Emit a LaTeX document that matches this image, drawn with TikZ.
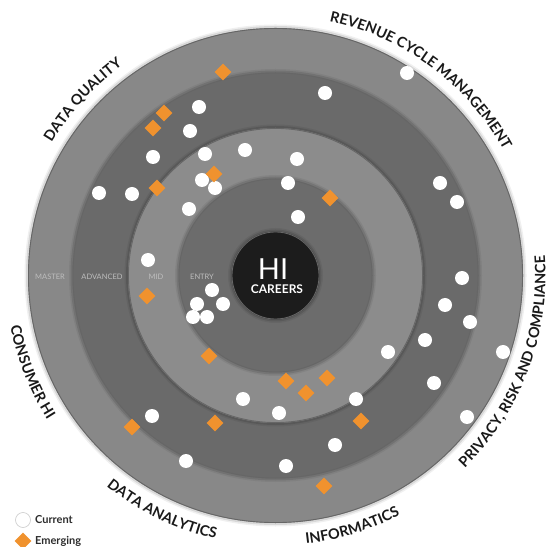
\documentclass[tikz,border=0pt]{standalone}
\usepackage{fontspec}
\setmainfont{Lato}
\usetikzlibrary{decorations.text,shapes.geometric}
\definecolor{ringA}{RGB}{136,136,136}
\definecolor{ringB}{RGB}{106,106,106}
\definecolor{ringC}{RGB}{140,140,140}
\definecolor{ringD}{RGB}{108,108,108}
\definecolor{core}{RGB}{28,28,28}
\definecolor{emerg}{RGB}{240,146,46}
\definecolor{lbl}{RGB}{25,25,25}
\definecolor{ringtxt}{RGB}{190,190,190}
\definecolor{legtxt}{RGB}{45,45,45}
\newcommand\lblfont{\fontsize{14.5}{15}\selectfont\bfseries\color{lbl}}
\begin{document}
\begin{tikzpicture}[x=1pt,y=1pt,
  cur/.style={circle, fill=white, inner sep=0pt, minimum size=14pt},
  emg/.style={diamond, fill=emerg, inner sep=0pt, minimum size=17pt},
  ringlab/.style={text=ringtxt, font=\fontsize{7.5}{8}\selectfont, inner sep=0pt},
  legtext/.style={text=legtxt, font=\fontsize{11}{12}\selectfont\bfseries, anchor=west, inner sep=0pt},
  toparc/.style={decorate, decoration={text along path, text align=center, text={#1}}},
]
\useasboundingbox (0,0) rectangle (548,546);
\coordinate (C) at (275.5,270.5);

% rings with soft shadows
\foreach \r/\c in {247.5/ringA, 203/ringB, 147.5/ringC, 97/ringD, 44/core} {
  \fill[black, opacity=0.06] (C) circle[radius=\r+3.5];
  \fill[black, opacity=0.10] (C) circle[radius=\r+2];
  \fill[\c] (C) circle[radius=\r];
  \draw[black!60, line width=0.9] (C) circle[radius=\r-0.45];
}

% curved category labels
\path[toparc={|\lblfont|DATA QUALITY}] ([shift={(177.7:260)}]C) arc[start angle=177.7, end angle=97.7, radius=260];
\path[toparc={|\lblfont|REVENUE CYCLE MANAGEMENT}] ([shift={(98.4:260)}]C) arc[start angle=98.4, end angle=8.4, radius=260];
\path[toparc={|\lblfont|PRIVACY, RISK AND COMPLIANCE}] ([shift={(-65.6:270)}]C) arc[start angle=-65.6, end angle=24.4, radius=270];
\path[toparc={|\lblfont|INFORMATICS}] ([shift={(-113:270)}]C) arc[start angle=-113, end angle=-33, radius=270];
\path[toparc={|\lblfont|DATA ANALYTICS}] ([shift={(-160.8:270)}]C) arc[start angle=-160.8, end angle=-70.8, radius=270];
\path[toparc={|\lblfont|CONSUMER HI}] ([shift={(-203.4:270)}]C) arc[start angle=-203.4, end angle=-113.4, radius=270];

\begin{scope}[shift={(0,546)}, y=-1pt]
% centre text
\node[text=white, font=\fontsize{29}{30}\selectfont, anchor=base, inner sep=0pt] (hi) at (273,280) {HI};
\node[text=white, font=\fontsize{12}{13}\selectfont\bfseries, anchor=base, inner sep=0pt] (careers) at (277,293.5) {CAREERS};

% ring level labels
\node[ringlab] (lmaster) at (50,277) {MASTER};
\node[ringlab] (ladv) at (102,277) {ADVANCED};
\node[ringlab] (lmid) at (156,277) {MID};
\node[ringlab] (lentry) at (202,277) {ENTRY};

% current (white) dots
\foreach \x/\y [count=\i] in {
  407/73, 325/93, 199/107, 190/131, 153/157, 99/193, 132/194, 189/209,
  245/150, 205/154, 202/180, 215/188, 297/159, 288/183, 298/217,
  440/183, 457/202, 148/260,
  212/290, 197/304, 223/304, 193/317, 207/317,
  462/278, 445/305, 470/322, 425/340, 388/352, 503/352, 434/383,
  356/399, 243/399, 279/413, 467/417, 335/445, 286/466, 152/416, 186/461}
  \node[cur] (w\i) at (\x,\y) {};

% emerging (orange) diamonds
\foreach \x/\y [count=\i] in {
  223/72, 164/113, 153/128, 157/188, 214/174, 330/198, 147/296, 209/356,
  286/381, 306/393, 327/378, 361/421, 215/423, 132/427, 324/486}
  \node[emg] (e\i) at (\x,\y) {};

% legend
\node[circle, fill=white, draw=black!20, line width=0.6, inner sep=0pt, minimum size=15pt] (legc) at (23,520) {};
\node[legtext] (legct) at (35,520) {Current};
\node[emg] (lege) at (23,541) {};
\node[legtext] (leget) at (35,541) {Emerging};
\end{scope}
\end{tikzpicture}
\end{document}
